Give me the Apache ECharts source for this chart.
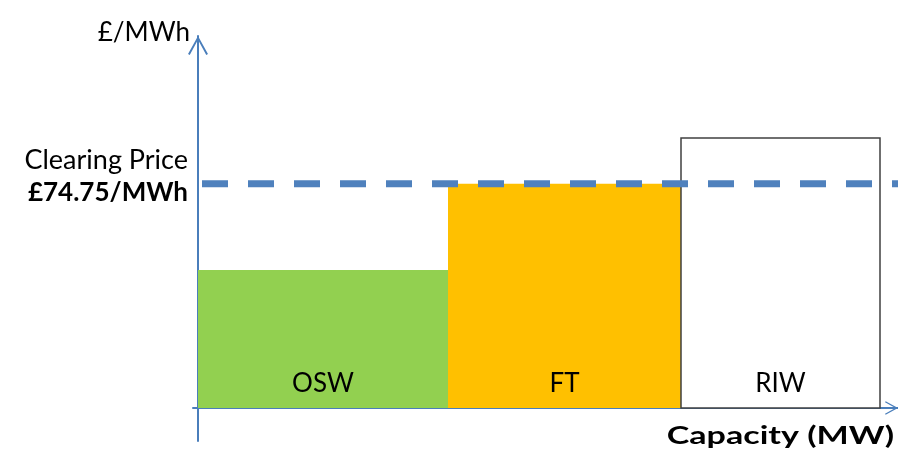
<!DOCTYPE html>
<html>
<head>
<meta charset="utf-8">
<script src="https://cdn.jsdelivr.net/npm/echarts@6/dist/echarts.min.js"></script>
<style>
html,body{margin:0;padding:0;background:#fff;}
#chart{width:898px;height:452px;}
</style>
</head>
<body>
<div id="chart"></div>
<script>
// ---- data ----
var technologies = ['OSW', 'FT', 'RIW'];
var capacities = [250, 233, 199];          // MW (relative block widths)
var strikePrices = [46, 74.75, 90];        // £/MWh
var clearingPrice = 74.75;                 // £/MWh
var clearingLabel = ['Clearing Price', '£74.75/MWh'];
var xAxisName = 'Capacity (MW)';
var yAxisName = '£/MWh';

var FONT = 'Lato, "Open Sans", sans-serif';
var AXIS_COLOR = '#4A7EBB';
var fills = ['#92D050', '#FFC000', '#FFFFFF'];
var strokes = [null, null, '#404040'];

// cumulative starts
var blocks = [];
var acc = 0;
for (var i = 0; i < technologies.length; i++) {
  blocks.push([acc, acc + capacities[i], strikePrices[i], i]);
  acc += capacities[i];
}
var xMax = 700;

var chevron = 'path://M0,19 L10.5,0 L21,19 L19.2,20 L10.5,4 L1.8,20 Z';

var chart = echarts.init(document.getElementById('chart'));
chart.setOption({
  animation: false,
  backgroundColor: '#fff',
  grid: { left: 193, right: 0, top: 36, bottom: 11 },
  xAxis: {
    type: 'value', min: -5, max: xMax,
    splitLine: { show: false }, axisTick: { show: false }, axisLabel: { show: false },
    axisLine: { onZero: true, lineStyle: { color: AXIS_COLOR, width: 2 },
      symbol: ['none', chevron], symbolSize: [21, 13], symbolOffset: [0, -6.5] }
  },
  yAxis: {
    type: 'value', min: -11, max: 124,
    splitLine: { show: false }, axisTick: { show: false }, axisLabel: { show: false },
    axisLine: { onZero: true, lineStyle: { color: AXIS_COLOR, width: 2 },
      symbol: ['none', chevron], symbolSize: [21, 19], symbolOffset: [0, -9.5] }
  },
  series: [
    {
      type: 'custom',
      data: blocks,
      z: 2,
      renderItem: function (params, api) {
        var x0 = api.value(0), x1 = api.value(1), p = api.value(2), idx = api.value(3);
        var a = api.coord([x0, 0]);
        var b = api.coord([x1, p]);
        var st = strokes[idx];
        return {
          type: 'group',
          children: [
            {
              type: 'rect',
              shape: { x: a[0], y: b[1], width: b[0] - a[0], height: a[1] - b[1] },
              style: { fill: fills[idx], stroke: st || null, lineWidth: st ? 1.5 : 0 }
            },
            {
              type: 'text',
              x: (a[0] + b[0]) / 2, y: a[1] - 24,
              style: { text: technologies[idx], fill: '#000', font: '26px ' + FONT,
                align: 'center', verticalAlign: 'middle' }
            }
          ]
        };
      }
    },
    {
      type: 'line',
      z: 5,
      data: [[0, clearingPrice], [xMax, clearingPrice]],
      symbol: 'circle', symbolSize: 0,
      lineStyle: { color: '#4F81BD', width: 7, type: [26, 20], dashOffset: -4 },
      label: {
        show: true, position: 'left', distance: 10,
        formatter: function (p) {
          return p.dataIndex === 0 ? '{a|' + clearingLabel[0] + '}\n{b|' + clearingLabel[1] + '}' : '';
        },
        rich: {
          a: { fontFamily: FONT, fontSize: 27, color: '#000', align: 'right', lineHeight: 32 },
          b: { fontFamily: FONT, fontSize: 26, fontWeight: 'bold', color: '#000', align: 'right', lineHeight: 32 }
        },
        offset: [0, -7]
      },
      silent: true
    }
  ]
});

// axis titles, anchored at the axis ends
var xEnd = chart.convertToPixel({ gridIndex: 0 }, [xMax, 0]);
var yEnd = chart.convertToPixel({ gridIndex: 0 }, [0, 124]);
chart.setOption({
  graphic: [{
    type: 'text',
    x: xEnd[0] - 4, y: xEnd[1] + 28,
    scaleX: 1.42,
    style: { text: xAxisName, font: 'bold 24px ' + FONT, fill: '#000',
      align: 'right', verticalAlign: 'middle' }
  }, {
    type: 'text',
    x: yEnd[0] - 8, y: yEnd[1] - 3,
    style: { text: yAxisName, font: '26px ' + FONT, fill: '#000',
      align: 'right', verticalAlign: 'middle' }
  }]
});
</script>
</body>
</html>
